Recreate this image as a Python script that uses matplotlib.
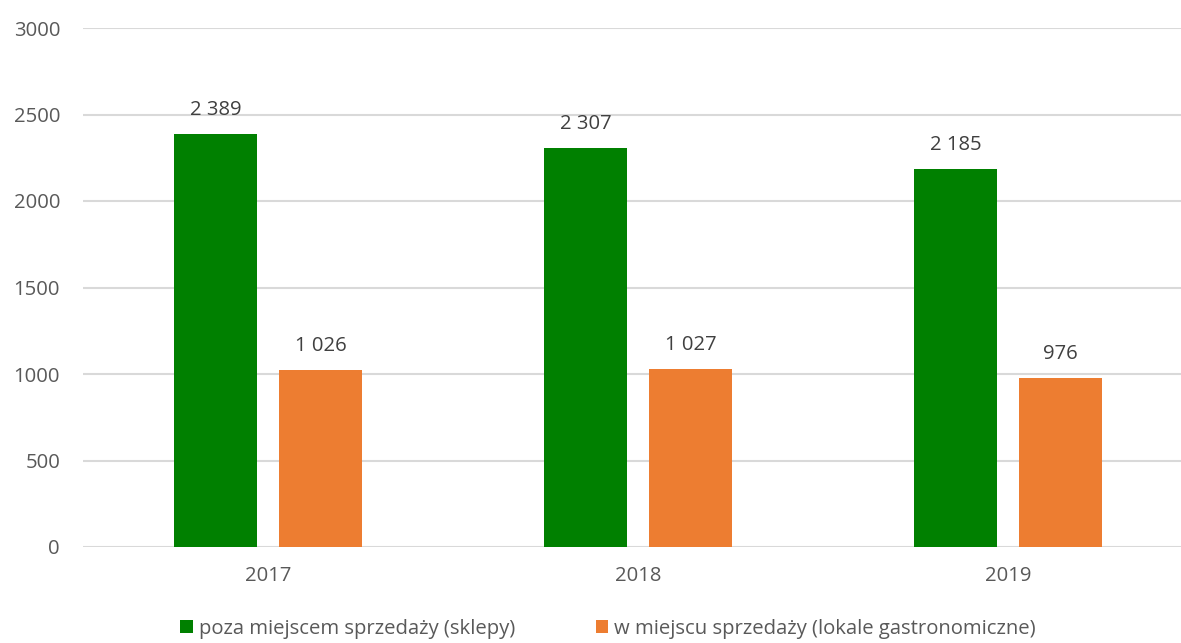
import matplotlib
matplotlib.use("Agg")
import matplotlib.pyplot as plt
import numpy as np

years = ["2017", "2018", "2019"]
sklepy = [2389, 2307, 2185]
lokale = [1026, 1027, 976]
labels_sklepy = ["2 389", "2 307", "2 185"]
labels_lokale = ["1 026", "1 027", "976"]
series_names = ["poza miejscem sprzedaży (sklepy)", "w miejscu sprzedaży (lokale gastronomiczne)"]
yticks = [0, 500, 1000, 1500, 2000, 2500, 3000]

plt.rcParams['font.family'] = ['Open Sans', 'DejaVu Sans']

W, H = 1181, 643
FS = 14.6
fig = plt.figure(figsize=(W/100, H/100), dpi=100)
left = 83 / W
bottom = (H - 547) / H
top = (H - 28) / H
ax = fig.add_axes([left, bottom, 1 - left, top - bottom])

x = np.arange(len(years))
bw = 0.224
off = 0.142
green = "#008000"
orange = "#ED7D31"
b1 = ax.bar(x - off, sklepy, bw, color=green, label=series_names[0], zorder=3)
b2 = ax.bar(x + off, lokale, bw, color=orange, label=series_names[1], zorder=3)

for xi, v, t in zip(x, sklepy, labels_sklepy):
    ax.text(xi - off, v + 80, t, ha="center", va="bottom", fontsize=FS, color="#404040")
for xi, v, t in zip(x, lokale, labels_lokale):
    ax.text(xi + off, v + 80, t, ha="center", va="bottom", fontsize=FS, color="#404040")

ax.set_xlim(-0.5, 2.5 - 12/370)
ax.set_ylim(0, 3000)
ax.set_yticks(yticks)
ax.set_yticklabels([str(v) for v in yticks])
ax.set_xticks(x)
ax.set_xticklabels(years)
ax.tick_params(axis="both", length=0, labelsize=FS, colors="#595959")
ax.tick_params(axis="y", pad=16.5)
ax.tick_params(axis="x", pad=14)
ax.grid(axis="y", color="#D9D9D9", linewidth=1.5, zorder=0)
for s in ax.spines.values():
    s.set_visible(False)

leg = fig.legend(handles=[b1, b2], loc="center", bbox_to_anchor=(0.515, (H - 629) / H),
                 ncol=2, frameon=False, fontsize=FS, handlelength=0.6, handleheight=0.6,
                 handletextpad=0.3, columnspacing=4.0, labelcolor="#595959")

fig.savefig("out.png", dpi=100)
